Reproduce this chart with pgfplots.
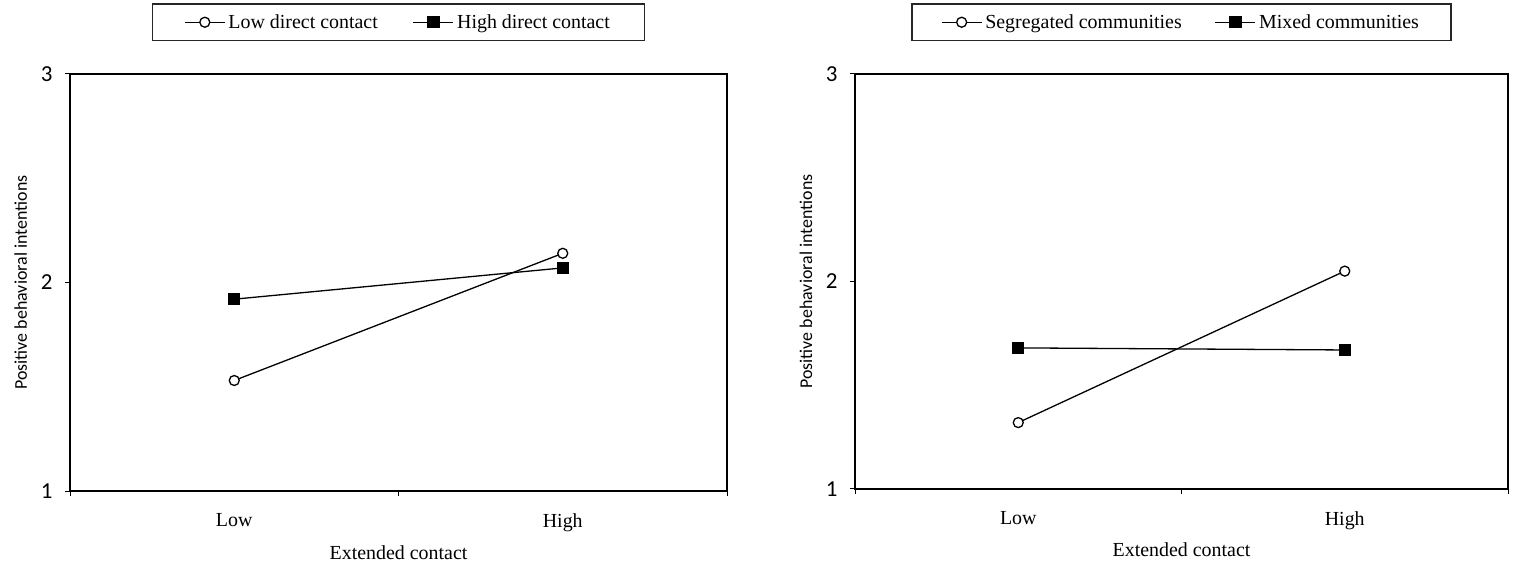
\documentclass[border=0pt]{standalone}
\usepackage{fontspec}
\setmainfont{Liberation Serif}
\newfontfamily\calib{Carlito}
\usepackage{pgfplots}
\pgfplotsset{compat=1.18}
\begin{document}
\begin{tikzpicture}
\path[use as bounding box] (0bp,0bp) rectangle (1518bp,570bp);
\pgfplotsset{
 panel/.style={
  scale only axis,
  xmin=0, xmax=2, ymin=1, ymax=3,
  xtick={0,1,2}, xticklabels={,,},
  extra x ticks={0.5,1.5}, extra x tick labels={Low,High},
  extra x tick style={major tick length=0pt, xticklabel style={yshift=-19bp}},
  ytick={1,2,3},
  tick align=outside, major tick length=5bp,
  xtick pos=bottom, ytick pos=left,
  axis line style={line width=1.3bp, black},
  every tick/.style={black, line width=1bp},
  /pgf/number format/assume math mode=true,
  yticklabel style={font=\calib\fontsize{23}{23}\selectfont, xshift=-9bp},
  xticklabel style={font=\fontsize{20}{20}\selectfont},
  xlabel={Extended contact},
  xlabel style={font=\fontsize{20}{20}\selectfont, at={(axis description cs:0.5,-0.147)}, anchor=center},
  ylabel={Positive behavioral intentions},
  ylabel style={font=\calib\fontsize{18}{20}\selectfont, at={(axis description cs:-0.075,0.5)}, anchor=center},
  legend columns=2,
  legend style={at={(axis description cs:0.5,1)}, anchor=south, yshift=33bp,
    draw=black!85, line width=1.2bp, font=\fontsize{20}{20}\selectfont,
    inner xsep=32bp, inner ysep=7.5bp, nodes={inner sep=3bp},
    /tikz/every even column/.append style={column sep=32bp}},
  legend image code/.code={\draw[mark repeat=2,mark phase=2] plot coordinates {(0bp,0bp)(20bp,0bp)(40bp,0bp)};},
 },
 sq/.style={black, line width=1.3bp, mark=square*, mark size=5.5bp, mark options={fill=black}},
 ci/.style={black, line width=1.3bp, mark=*, mark size=5bp, mark options={fill=white}},
}
\begin{axis}[panel, at={(70bp,79bp)}, anchor=south west, width=657bp, height=417bp]
\addplot[ci] coordinates {(0.5,1.53) (1.5,2.14)};
\addlegendentry{Low direct contact}
\addplot[sq] coordinates {(0.5,1.92) (1.5,2.07)};
\addlegendentry{High direct contact}
\end{axis}
\begin{axis}[panel, at={(855bp,81bp)}, anchor=south west, width=653bp, height=415bp,
  legend style={inner xsep=29bp, /tikz/every even column/.append style={column sep=30bp}}]
\addplot[ci] coordinates {(0.5,1.32) (1.5,2.05)};
\addlegendentry{Segregated communities}
\addplot[sq] coordinates {(0.5,1.68) (1.5,1.67)};
\addlegendentry{Mixed communities}
\end{axis}
\end{tikzpicture}
\end{document}
